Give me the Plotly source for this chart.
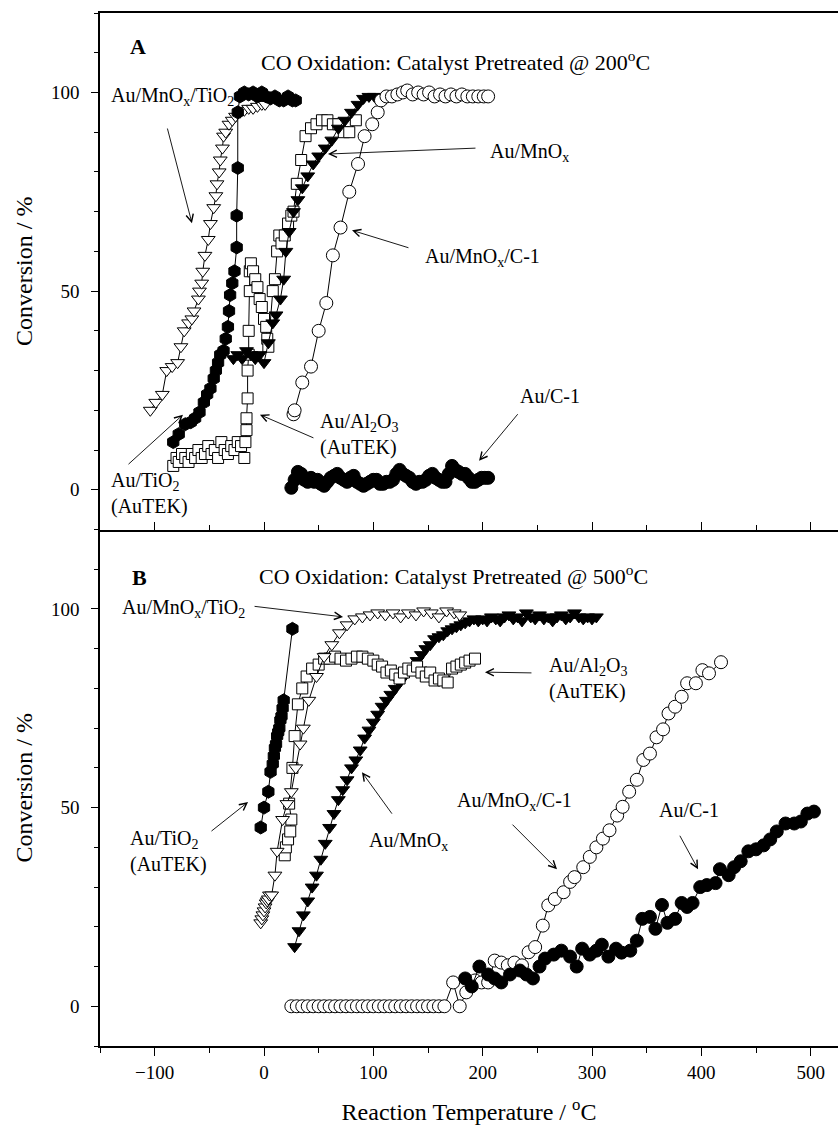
import plotly.graph_objects as go

# ---------------- Panel A (pretreated @ 200 C) ----------------
A_mnox_tio2_x = [-104, -99, -93, -89, -84, -79, -76, -73, -69, -66, -64, -60, -59, -57, -56, -54, -51, -49, -46, -44,
                 -43, -41, -40, -38, -37, -35, -32, -29, -26, -22, -18, -14, -10, -6, -2, 1]
A_mnox_tio2_y = [20, 22, 24, 30, 31, 32, 36, 40, 42, 43, 45, 48, 50, 52, 55, 59, 63, 67, 71, 74,
                 77, 80, 83, 86, 89, 90, 92, 93, 94, 95, 95.5, 96, 96, 96.5, 97, 97]

A_tio2_x = [-83, -78, -72, -67, -63, -59, -55, -52, -49, -46, -44, -42, -40, -37, -35, -33, -32, -31, -29, -27,
            -25, -25, -24, -24, -22, -18, -14, -10, -6, -2, 2, 6, 10, 14, 18, 22, 26, 29]
A_tio2_y = [12, 14, 16.5, 17, 18, 19.5, 22, 24, 25.5, 28, 30, 32, 34, 35, 38, 41, 45, 49, 52, 55,
            61, 69, 81, 95, 99, 100, 99.5, 100, 99, 100, 99, 98.5, 99, 98, 98, 99, 98, 98]

A_mnox_x = [-28, -24, -20, -16, -12, -8, -4, 0, 4, 8, 11, 15, 18, 20, 23, 27, 31, 35, 40, 45,
            50, 56, 62, 68, 74, 80, 86, 91, 96, 101]
A_mnox_y = [33, 34, 33, 35, 34, 33, 34, 32, 37, 42, 44, 48, 53, 60, 65, 70, 73, 76, 79, 82,
            84, 86, 88, 91, 93, 95, 97, 98.5, 99, 99]

A_al2o3_x = [-83, -80, -78, -75, -72, -69, -66, -63, -60, -57, -54, -51, -48, -45, -42, -39, -36, -33, -30, -27,
             -24, -21, -18, -17, -16, -16, -15, -15, -14, -14, -13, -13, -12, -10, -8, -6, -4, -2, 0, 2,
             3, 4, 8, 10, 12, 14, 16, 19, 22, 25, 27, 30, 34, 38, 43, 48, 53, 58, 63, 68, 73, 78, 84]
A_al2o3_y = [6, 8, 7, 9, 8, 7, 9, 8, 10, 8, 9, 11, 9, 10, 8, 12, 10, 9, 11, 10,
             12, 11, 8, 12, 15, 18, 23, 30, 34, 40, 50, 55, 57, 55, 53, 51, 48, 46, 43, 41,
             38, 36, 50, 53, 60, 64, 62, 64, 67, 69, 70, 77, 83, 89, 91, 92, 93, 93, 92, 92, 90, 90, 93]

A_mnox_c1_x = [27, 28, 35, 43, 50, 57, 63, 70, 78, 86, 92, 99, 104, 107, 112, 117, 122, 127, 131, 136,
               141, 146, 151, 156, 161, 166, 171, 176, 181, 186, 191, 196, 201, 205]
A_mnox_c1_y = [19, 20, 27, 31, 40, 47, 59, 66, 75, 82, 89, 92, 95, 98, 99, 99, 99.5, 100, 100.5, 99.5,
               100, 99.5, 100, 99, 99.5, 99, 99.5, 99, 99.5, 99, 99, 99, 99, 99]

A_c1_x = [25, 28, 31, 34, 37, 40, 43, 46, 49, 52, 55, 58, 61, 64, 67, 70, 73, 76, 79, 82,
          85, 88, 91, 94, 97, 100, 103, 106, 109, 112, 115, 118, 121, 124, 127, 130, 133, 136, 139, 142,
          145, 148, 151, 154, 157, 160, 163, 166, 169, 172, 175, 178, 181, 184, 187, 190, 193, 196, 199, 202, 205]
A_c1_y = [0.5, 2.5, 4.5, 4, 2.5, 2, 3, 2, 2.5, 1.5, 1, 2, 3, 3.5, 4, 3, 2.5, 2, 3, 3.5,
          2, 1.5, 1, 1.5, 2, 2.5, 2.5, 1.5, 1.5, 2, 2, 2.5, 4, 5, 4, 3.5, 3, 2, 1.5, 2,
          2, 2.5, 3.5, 4, 3, 2.5, 2, 2, 4, 6, 5, 4.5, 4, 4, 3, 2, 2, 2.5, 3, 3, 3]

# ---------------- Panel B (pretreated @ 500 C) ----------------
B_tio2_x = [-3, 0, 4, 6, 8, 9, 10, 11, 12, 13, 14, 15, 16, 17, 18, 26]
B_tio2_y = [45, 50, 54, 59, 61, 63, 65, 66, 68, 69, 70, 72, 73, 75, 77, 95]

B_mnox_tio2_x = [-3, -2, -1, 0, 1, 2, 3, 4, 5, 7, 10, 12, 17, 21, 25, 29, 33, 36, 41, 48,
                 55, 62, 69, 76, 83, 90, 97, 104, 111, 118, 125, 132, 139, 146, 153, 160, 167, 174, 179]
B_mnox_tio2_y = [21, 22, 23, 24, 25, 26, 26.5, 27, 28, 28, 33, 39, 47, 51, 54, 60, 66, 70, 77, 83,
                 88, 91, 94, 96, 97.5, 98, 98.5, 99, 98.5, 99, 98, 99, 98.5, 99.5, 99, 98, 99.5, 99, 98.5]

B_al2o3_x = [19, 20, 22, 24, 25, 23, 26, 28, 31, 35, 39, 44, 50, 55, 60, 65, 70, 75, 80, 85,
             90, 95, 100, 104, 108, 112, 116, 120, 124, 128, 132, 136, 140, 144, 148, 152, 156, 160, 164, 168,
             172, 176, 180, 184, 188, 193]
B_al2o3_y = [38, 40, 42, 44, 47, 51, 60, 68, 76, 80, 83, 85, 86, 87.5, 87.5, 88, 87.5, 87, 87.5, 88,
             88, 87.5, 87, 86, 85.5, 84, 84.5, 83.5, 82.5, 84, 85, 84.5, 85.5, 84, 83, 84, 82, 82.5, 82, 81.5,
             85, 85.5, 86, 86.5, 87, 87.5]

B_mnox_x = [28, 32, 36, 40, 44, 48, 52, 56, 60, 64, 68, 72, 76, 80, 84, 88, 92, 96, 100, 104,
            108, 112, 116, 120, 124, 128, 132, 136, 140, 144, 148, 152, 156, 160, 164, 168, 172, 176, 180, 184,
            188, 192, 196, 200, 204, 208, 212, 216, 220, 224, 228, 232, 236, 240, 244, 248, 252, 256, 260, 264,
            268, 272, 276, 280, 284, 288, 292, 296, 300, 304]
B_mnox_y = [15, 19, 23, 26.5, 30, 33, 37, 41, 45, 48.5, 52, 54.5, 57, 60, 62, 64.5, 67.5, 69.5, 71.5, 73.5,
            75.5, 77, 78.5, 80, 81.5, 83, 84.5, 85.5, 87, 88.5, 90, 91, 92.5, 93, 93.5, 94.5, 95, 95.5, 96, 96.5,
            97, 97.5, 97, 97.5, 97, 98, 97.5, 97, 98, 98.5, 97.5, 98, 97, 99, 98, 97.5, 98.5, 97.5, 98, 97,
            98, 98.5, 97.5, 98, 99, 98, 97.5, 98, 97.5, 98]

B_mnox_c1_x = [25, 30, 35, 40, 45, 50, 55, 60, 65, 70, 75, 80, 85, 90, 95, 100, 105, 110, 115, 120,
               125, 130, 135, 140, 145, 150, 155, 160, 165,
               173, 179, 185, 193, 199, 205, 211, 217, 223, 229, 236, 242, 248, 255, 260, 266, 274, 280, 284, 292,
               298, 304, 310, 316, 323, 328, 334, 341, 347, 353, 359, 365, 370, 376, 382, 387, 395, 401, 407, 418]
B_mnox_c1_y = [0, 0, 0, 0, 0, 0, 0, 0, 0, 0, 0, 0, 0, 0, 0, 0, 0, 0, 0, 0,
               0, 0, 0, 0, 0, 0, 0, 0, 0,
               6, 0, 3.5, 6.5, 6, 6, 11.5, 11, 10.3, 11, 10.3, 13.6, 14.9, 20.3, 25.4, 27, 28.7, 31.3, 32.5, 35,
               37.6, 40, 42.2, 44.3, 48, 50.2, 54, 57, 62, 63.6, 67.7, 69.7, 73.7, 75.4, 77.9, 81.3, 81.3, 84.6, 83.8, 86.6]

B_c1_x = [184, 190, 197, 205, 211, 217, 225, 234, 240, 246, 252, 257, 265, 272, 280, 286, 291, 298, 304, 309,
          315, 322, 327, 335, 341, 346, 353, 358, 364, 369, 376, 382, 387, 392, 399, 405, 413, 417, 425, 430,
          436, 443, 450, 457, 463, 469, 477, 485, 491, 497, 503]
B_c1_y = [7, 5, 10, 8, 7, 6, 8, 9, 8, 7, 10, 12, 13, 14, 12.5, 10, 14.5, 13, 14, 15.5,
          12.5, 14.5, 13.5, 14, 16.5, 22, 22.5, 19.5, 25.5, 21, 22, 26, 25, 26, 30, 30.5, 31, 34.5, 33, 35,
          36.5, 39, 39.5, 40.5, 42, 44, 46, 46, 46.5, 48.5, 49]

FONT = "Liberation Serif"


def series(x, y, symbol, filled, size, xa, ya):
    return go.Scatter(
        x=x, y=y, mode="lines+markers", xaxis=xa, yaxis=ya,
        line=dict(color="black", width=1),
        marker=dict(symbol=symbol, size=size,
                    color="black" if filled else "white",
                    line=dict(color="black", width=1)),
        showlegend=False, hoverinfo="x+y")


fig = go.Figure()
# Panel A (top): x2 / y2
fig.add_trace(series(A_mnox_tio2_x, A_mnox_tio2_y, "triangle-down", False, 12, "x2", "y2"))
fig.add_trace(series(A_al2o3_x, A_al2o3_y, "square", False, 11, "x2", "y2"))
fig.add_trace(series(A_mnox_x, A_mnox_y, "triangle-down", True, 12, "x2", "y2"))
fig.add_trace(series(A_tio2_x, A_tio2_y, "hexagon", True, 13, "x2", "y2"))
fig.add_trace(series(A_mnox_c1_x, A_mnox_c1_y, "circle", False, 13, "x2", "y2"))
fig.add_trace(series(A_c1_x, A_c1_y, "circle", True, 13, "x2", "y2"))
# Panel B (bottom): x / y
fig.add_trace(series(B_mnox_c1_x, B_mnox_c1_y, "circle", False, 13, "x", "y"))
fig.add_trace(series(B_c1_x, B_c1_y, "circle", True, 13, "x", "y"))
fig.add_trace(series(B_mnox_x, B_mnox_y, "triangle-down", True, 12, "x", "y"))
fig.add_trace(series(B_al2o3_x, B_al2o3_y, "square", False, 11, "x", "y"))
fig.add_trace(series(B_mnox_tio2_x, B_mnox_tio2_y, "triangle-down", False, 12, "x", "y"))
fig.add_trace(series(B_tio2_x, B_tio2_y, "hexagon", True, 13, "x", "y"))

axis_common = dict(showline=True, linecolor="black", linewidth=1.5, showgrid=False, zeroline=False,
                   tickcolor="black", tickwidth=1.2,
                   tickfont=dict(family=FONT, size=19, color="black"))

xr = [-150, 525]
yr = [-10, 120]

fig.update_layout(
    width=838, height=1134,
    margin=dict(l=100, r=0, t=13, b=88),
    paper_bgcolor="white", plot_bgcolor="white",
    showlegend=False,
    xaxis=dict(domain=[0, 1], anchor="y", range=xr, tickmode="linear", tick0=0, dtick=100,
               ticks="outside", ticklen=8,
               minor=dict(ticks="outside", ticklen=5, dtick=50, tick0=0, tickcolor="black", tickwidth=1.2),
               title=dict(text="Reaction Temperature / <sup>o</sup>C",
                          font=dict(family=FONT, size=24, color="black"), standoff=22),
               **axis_common),
    yaxis=dict(domain=[0, 0.5], anchor="x", range=yr, tickmode="linear", tick0=0, dtick=50,
               ticks="outside", ticklen=7, ticklabelstandoff=8,
               minor=dict(ticks="outside", ticklen=4, dtick=10, tick0=0, tickcolor="black", tickwidth=1.2),
               title=dict(text="Conversion / %", font=dict(family=FONT, size=24, color="black"), standoff=12),
               **axis_common),
    xaxis2=dict(domain=[0, 1], anchor="y2", range=xr, tickmode="linear", tick0=0, dtick=100,
                ticks="inside", ticklen=8, showticklabels=False, mirror=True,
                minor=dict(ticks="inside", ticklen=5, dtick=50, tick0=0, tickcolor="black", tickwidth=1.2),
                **axis_common),
    yaxis2=dict(domain=[0.5, 1], anchor="x2", range=yr, tickmode="linear", tick0=0, dtick=50,
                ticks="outside", ticklen=7, ticklabelstandoff=8,
                minor=dict(ticks="outside", ticklen=4, dtick=10, tick0=0, tickcolor="black", tickwidth=1.2),
                title=dict(text="Conversion / %", font=dict(family=FONT, size=24, color="black"), standoff=12),
                **axis_common),
)

LBL = dict(family=FONT, size=20, color="black")
TTL = dict(family=FONT, size=22, color="black")

texts = [
    # (xref, yref, x, y, text, font, xanchor)
    ("x2", "y2", -115, 111.5, "<b>A</b>", dict(family=FONT, size=22, color="black"), "center"),
    ("x2", "y2", 175, 108, "CO Oxidation: Catalyst Pretreated @ 200<sup>o</sup>C", TTL, "center"),
    ("x2", "y2", -142, 99, "Au/MnO<sub>x</sub>/TiO<sub>2</sub>", LBL, "left"),
    ("x2", "y2", 205, 85, "Au/MnO<sub>x</sub>", LBL, "left"),
    ("x2", "y2", 145, 58.5, "Au/MnO<sub>x</sub>/C-1", LBL, "left"),
    ("x2", "y2", 232, 23.5, "Au/C-1", LBL, "left"),
    ("x2", "y2", 49, 14, "Au/Al<sub>2</sub>O<sub>3</sub><br>(AuTEK)", LBL, "left"),
    ("x2", "y2", -142, -1, "Au/TiO<sub>2</sub><br>(AuTEK)", LBL, "left"),
    ("x", "y", -114, 108, "<b>B</b>", dict(family=FONT, size=22, color="black"), "center"),
    ("x", "y", 173, 108.5, "CO Oxidation: Catalyst Pretreated @ 500<sup>o</sup>C", TTL, "center"),
    ("x", "y", -132, 100, "Au/MnO<sub>x</sub>/TiO<sub>2</sub>", LBL, "left"),
    ("x", "y", 259, 82.5, "Au/Al<sub>2</sub>O<sub>3</sub><br>(AuTEK)", LBL, "left"),
    ("x", "y", -124, 39, "Au/TiO<sub>2</sub><br>(AuTEK)", LBL, "left"),
    ("x", "y", 94, 41.5, "Au/MnO<sub>x</sub>", LBL, "left"),
    ("x", "y", 175, 51.5, "Au/MnO<sub>x</sub>/C-1", LBL, "left"),
    ("x", "y", 359, 49.4, "Au/C-1", LBL, "left"),
]
for xr_, yr_, x, y, t, f, xa in texts:
    fig.add_annotation(xref=xr_, yref=yr_, x=x, y=y, text=t, font=f, showarrow=False,
                       xanchor=xa, yanchor="middle", align="left")

arrows = [
    # (xref, yref, tail_x, tail_y, head_x, head_y)
    ("x2", "y2", -88.7, 91.3, -65.9, 67.1),
    ("x2", "y2", 194.8, 86, 58.5, 84.5),
    ("x2", "y2", 133.5, 60.8, 80.5, 65.3),
    ("x2", "y2", 233.2, 19.4, 196.7, 7.3),
    ("x2", "y2", 46.6, 12.9, -3.7, 18.9),
    ("x2", "y2", -125.3, 6.1, -74.1, 18.9),
    ("x", "y", -10, 100.7, 72.3, 98),
    ("x", "y", 246, 83.9, 202.1, 84.1),
    ("x", "y", -49.4, 43.8, -14.6, 51.4),
    ("x", "y", 118, 48.1, 89.6, 58.9),
    ("x", "y", 225.9, 46.1, 268, 34.5),
    ("x", "y", 379.6, 43.3, 397, 34.5),
]
for xr_, yr_, tx, ty, hx, hy in arrows:
    fig.add_annotation(xref=xr_, yref=yr_, axref=xr_, ayref=yr_, x=hx, y=hy, ax=tx, ay=ty,
                       text="", showarrow=True, arrowhead=5, arrowsize=1.6, arrowwidth=0.9,
                       arrowcolor="black", standoff=0, startstandoff=0)

fig.write_html("out.html")
